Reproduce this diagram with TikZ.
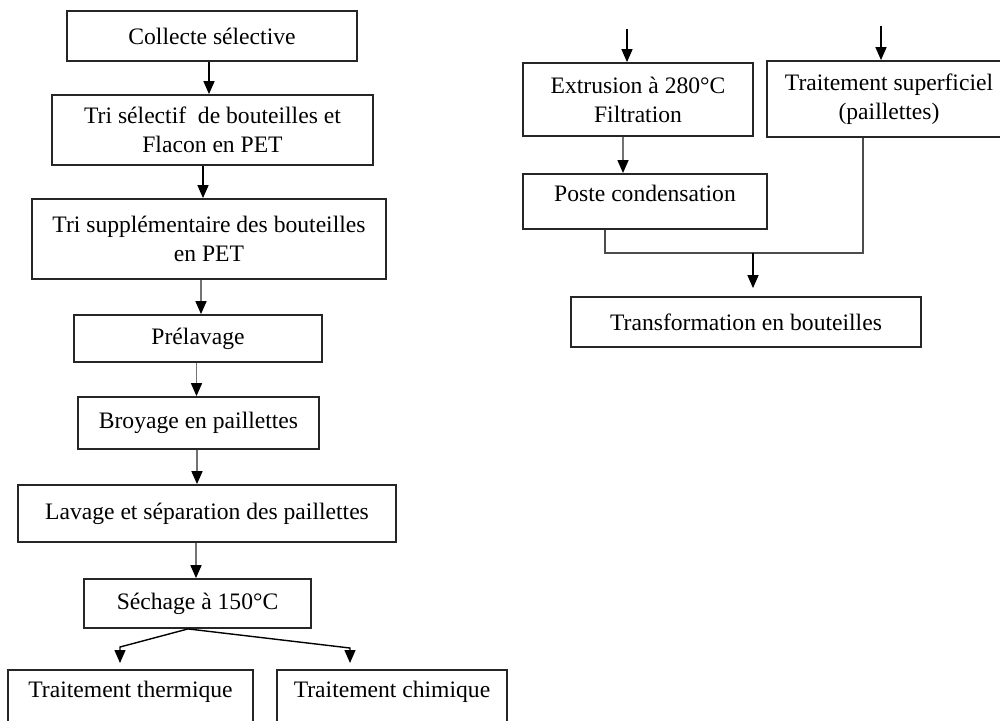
\documentclass[tikz,border=0pt]{standalone}
\usepackage{fontspec}
\setmainfont{Liberation Serif}
\usetikzlibrary{arrows.meta,calc}
\begin{document}
\begin{tikzpicture}[x=0.5pt,y=-0.5pt,
  box/.style={draw=black!85, line width=0.9pt, inner sep=0pt, align=center,
    font=\fontsize{11.8}{14.5}\selectfont},
  arr/.style={draw=black, line width=0.7pt, -{Triangle[width=5.5pt,length=6.5pt,color=black]}},
  garr/.style={draw=black!55, line width=0.8pt, -{Triangle[width=5.5pt,length=6.5pt,color=black]}},
  gline/.style={draw=black!70, line width=0.8pt}]
\useasboundingbox (0,0) rectangle (1000,720);
% left column
\node[box, minimum width=145pt, minimum height=25pt] (b1) at (212,36) {Collecte sélective};
\node[box, minimum width=160.5pt, minimum height=35pt] (b2) at (212.5,130) {Tri sélectif\ \ de bouteilles et\\Flacon en PET};
\node[box, minimum width=177pt, minimum height=40pt] (b3) at (209,239) {Tri supplémentaire des bouteilles\\en PET};
\node[box, minimum width=124pt, minimum height=23.5pt] (b4) at (198,338.5) {Prélavage};
\node[box, minimum width=120.5pt, minimum height=26pt] (b5) at (198.5,423) {Broyage en paillettes};
\node[box, minimum width=189pt, minimum height=28.5pt] (b6) at (207,513.5) {Lavage et séparation des paillettes};
\node[box, minimum width=113.5pt, minimum height=24.5pt] (b7) at (197.5,603.5) {Séchage à 150°C};
\node[box, minimum width=122.5pt, text height=14pt, text depth=22pt, anchor=north] (b8) at (130.5,669) {Traitement thermique};
\node[box, minimum width=115pt, text height=14pt, text depth=22pt, anchor=north] (b9) at (392,669) {Traitement chimique};
% right column
\node[box, minimum width=115pt, minimum height=36.5pt] (bA) at (638,99.5) {Extrusion à 280°C\\Filtration};
\node[box, minimum width=122pt, minimum height=38pt] (bB) at (889,99) {Traitement superficiel\\(paillettes)};
\node[box, minimum width=122pt, text height=14pt, text depth=13.5pt, anchor=north] (bC) at (645,173) {Poste condensation};
\node[box, minimum width=175pt, minimum height=25pt] (bD) at (746,322) {Transformation en bouteilles};
\coordinate (inA) at (627,29);
\coordinate (inB) at (881,26);
% left connectors
\draw[arr] ([xshift=-1.5pt]b1.south) -- ([xshift=-1.5pt]b1.south |- b2.north);
\draw[arr] ([xshift=-4.75pt]b2.south) -- ([xshift=-4.75pt]b2.south |- b3.north);
\draw[garr] ([xshift=-4pt]b3.south) -- ([xshift=-4pt]b3.south |- b4.north);
\draw[garr] ([xshift=-0.75pt]b4.south) -- ([xshift=-0.75pt]b4.south |- b5.north);
\draw[garr] ([xshift=-0.75pt]b5.south) -- ([xshift=-0.75pt]b5.south |- b6.north);
\draw[garr] ([xshift=-5.5pt]b6.south) -- ([xshift=-5.5pt]b6.south |- b7.north);
\draw[arr, shorten >=3pt] ([xshift=-4.75pt]b7.south) -- ([xshift=-5.25pt,yshift=11pt]b8.north) -- ([xshift=-5.25pt]b8.north);
\draw[arr, shorten >=3pt] ([xshift=-4.75pt]b7.south) -- ([xshift=-21pt,yshift=10.5pt]b9.north) -- ([xshift=-21pt]b9.north);
% right connectors
\draw[arr] (inA) -- (inA |- bA.north);
\draw[arr] (inB) -- (inB |- bB.north);
\draw[garr] ([xshift=-7.5pt]bA.south) -- ([xshift=-7.5pt]bA.south |- bC.north);
\coordinate (jl) at ([xshift=-20pt,yshift=-11.5pt]bC.south);
\path ([xshift=-13pt]bB.south) coordinate (bBs);
\path ([xshift=3.5pt]bD.north) coordinate (dN);
\draw[gline] ([xshift=-20pt]bC.south) -- (jl) -- (jl -| bBs) -- (bBs);
\draw[arr, shorten >=4pt] (jl -| dN) -- (dN);
\end{tikzpicture}
\end{document}
